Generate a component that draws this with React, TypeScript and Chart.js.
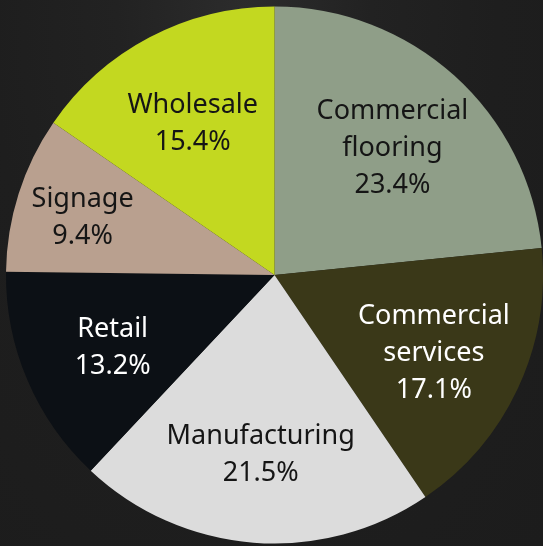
import React, { useEffect, useRef } from "react";
import { Chart, registerables } from "chart.js";

Chart.register(...registerables);

const categories = [
  "Commercial flooring",
  "Commercial services",
  "Manufacturing",
  "Retail",
  "Signage",
  "Wholesale",
];
const shares = [23.4, 17.1, 21.5, 13.2, 9.4, 15.4];
const labelLines = [
  ["Commercial", "flooring"],
  ["Commercial", "services"],
  ["Manufacturing"],
  ["Retail"],
  ["Signage"],
  ["Wholesale"],
];
const sliceColors = ["#8f9e88", "#3a3818", "#dcdcdc", "#0c1015", "#b9a08f", "#c3d820"];
const textColors = ["#151515", "#ffffff", "#151515", "#ffffff", "#151515", "#151515"];

const labelPlugin = {
  id: "insideLabels",
  afterDatasetsDraw(chart: any) {
    const ctx = chart.ctx;
    const meta = chart.getDatasetMeta(0);
    ctx.save();
    ctx.font = '27px "Noto Sans", sans-serif';
    ctx.textAlign = "center";
    ctx.textBaseline = "middle";
    const lineH = 37;
    meta.data.forEach((arc: any, i: number) => {
      const { x, y, startAngle, endAngle, outerRadius } = arc.getProps(
        ["x", "y", "startAngle", "endAngle", "outerRadius"],
        true
      );
      const mid = (startAngle + endAngle) / 2;
      const span = endAngle - startAngle;
      const frac = span < 0.7 ? 0.75 : 0.655;
      const r = outerRadius * frac;
      const cx = x + Math.cos(mid) * r;
      const cy = y + Math.sin(mid) * r + 4;
      const lines = [...labelLines[i], shares[i].toFixed(1) + "%"];
      const top = cy - ((lines.length - 1) * lineH) / 2;
      ctx.fillStyle = textColors[i];
      lines.forEach((t: string, k: number) => {
        ctx.fillText(t, cx, top + k * lineH);
      });
    });
    ctx.restore();
  },
};

export default function App() {
  const canvasRef = useRef<HTMLCanvasElement | null>(null);
  useEffect(() => {
    document.body.style.margin = "0";
    const chart = new Chart(canvasRef.current as HTMLCanvasElement, {
      type: "pie",
      data: {
        labels: categories,
        datasets: [
          {
            data: shares,
            backgroundColor: sliceColors,
            borderWidth: 0,
          },
        ],
      },
      options: {
        animation: false,
        responsive: false,
        maintainAspectRatio: false,
        layout: { padding: { left: 6, right: 0, top: 6, bottom: 2 } },
        plugins: {
          legend: { display: false },
          tooltip: { enabled: false },
        },
      },
      plugins: [labelPlugin],
    });
    return () => chart.destroy();
  }, []);
  return (
    <div
      style={{
        position: "fixed",
        left: 0,
        top: 0,
        width: 543,
        height: 546,
        background:
          "radial-gradient(ellipse at 45% 2%, #2c2c2c 0%, #222222 30%, #1e1e1e 60%, #1c1c1c 100%)",
      }}
    >
      <canvas ref={canvasRef} width={543} height={546} style={{ width: 543, height: 546 }} />
    </div>
  );
}
